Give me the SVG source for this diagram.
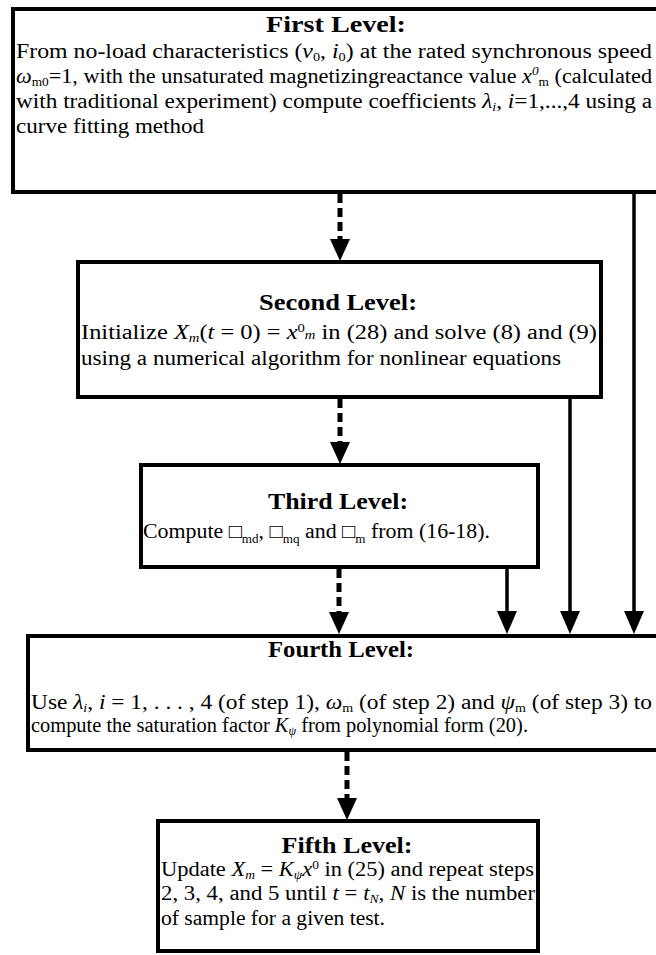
<svg xmlns="http://www.w3.org/2000/svg" width="656" height="955" viewBox="0 0 656 955">
<style>
.box{fill:#fff;stroke:#000;stroke-width:4}
.t{font-family:"Liberation Serif","Times New Roman",serif;font-weight:bold;font-size:24px;text-anchor:middle;fill:#000}
.b{font-family:"Liberation Serif","Times New Roman",serif;font-size:20px;fill:#000}
.i{font-style:italic}
.s{font-size:12px}
.solid{stroke:#000;stroke-width:3.5;fill:none}
.dash{stroke:#000;stroke-width:5;fill:none;stroke-dasharray:9 5}
</style>
<g id="connectors">
<line class="dash" x1="340" y1="194" x2="340" y2="240"/>
<path d="M330,239 L350,239 L340,261 Z"/>
<line class="dash" x1="340" y1="399" x2="340" y2="443"/>
<path d="M330,442 L350,442 L340,464 Z"/>
<line class="dash" x1="339" y1="569" x2="339" y2="613"/>
<path d="M329,612 L349,612 L339,634 Z"/>
<line class="dash" x1="347" y1="752" x2="347" y2="799"/>
<path d="M337,798 L357,798 L347,820 Z"/>
<line class="solid" x1="634" y1="192" x2="634" y2="612"/>
<path d="M624,611 L644,611 L634,634 Z"/>
<line class="solid" x1="570" y1="397" x2="570" y2="612"/>
<path d="M560,611 L580,611 L570,634 Z"/>
<line class="solid" x1="507" y1="567" x2="507" y2="612"/>
<path d="M497,611 L517,611 L507,634 Z"/>
</g>
<g id="first">
<rect class="box" x="13" y="9" width="680" height="183"/>
<text class="t" x="336" y="32" textLength="140" lengthAdjust="spacingAndGlyphs">First Level:</text>
<text class="b" x="16" y="58" textLength="636" lengthAdjust="spacingAndGlyphs">From no-load characteristics (<tspan class="i">v</tspan><tspan class="s" dy="3">0</tspan><tspan dy="-3">, </tspan><tspan class="i">i</tspan><tspan class="s" dy="3">0</tspan><tspan dy="-3">) at the rated synchronous speed</tspan></text>
<text class="b" x="16" y="83" textLength="636" lengthAdjust="spacingAndGlyphs"><tspan class="i">ω</tspan><tspan class="s" dy="3">m0</tspan><tspan dy="-3">=1, with the unsaturated magnetizingreactance value </tspan><tspan class="i">x</tspan><tspan class="s i" dy="-8">0</tspan><tspan class="s" dy="11">m</tspan><tspan dy="-3"> (calculated</tspan></text>
<text class="b" x="16" y="108" textLength="636" lengthAdjust="spacingAndGlyphs">with traditional experiment) compute coefficients <tspan class="i">λ</tspan><tspan class="s i" dy="3">i</tspan><tspan dy="-3">, </tspan><tspan class="i">i</tspan>=1,...,4 using a</text>
<text class="b" x="16" y="133" textLength="188" lengthAdjust="spacingAndGlyphs">curve fitting method</text>
</g>
<g id="second">
<rect class="box" x="78" y="262" width="523" height="135"/>
<text class="t" x="338" y="310" textLength="158" lengthAdjust="spacingAndGlyphs">Second Level:</text>
<text class="b" x="81" y="339" textLength="516" lengthAdjust="spacingAndGlyphs">Initialize <tspan class="i">X</tspan><tspan class="s i" dy="3">m</tspan><tspan dy="-3">(</tspan><tspan class="i">t</tspan> = 0) = <tspan class="i">x</tspan><tspan class="s" dy="-7">0</tspan><tspan class="s i" dy="7">m</tspan> in (28) and solve (8) and (9)</text>
<text class="b" x="81" y="365" textLength="480" lengthAdjust="spacingAndGlyphs">using a numerical algorithm for nonlinear equations</text>
</g>
<g id="third">
<rect class="box" x="141" y="465" width="397" height="102"/>
<text class="t" x="338" y="509" textLength="140" lengthAdjust="spacingAndGlyphs">Third Level:</text>
<text class="b" x="143" y="538" textLength="347" lengthAdjust="spacingAndGlyphs">Compute □<tspan class="s" dy="5">md</tspan><tspan dy="-5">, □</tspan><tspan class="s" dy="5">mq</tspan><tspan dy="-5"> and □</tspan><tspan class="s" dy="5">m</tspan><tspan dy="-5"> from (16-18).</tspan></text>
</g>
<g id="fourth">
<rect class="box" x="28" y="636" width="680" height="114"/>
<text class="t" x="341" y="657" textLength="146" lengthAdjust="spacingAndGlyphs">Fourth Level:</text>
<text class="b" x="31" y="709" textLength="621" lengthAdjust="spacingAndGlyphs">Use <tspan class="i">λ</tspan><tspan class="s i" dy="3">i</tspan><tspan dy="-3">, </tspan><tspan class="i">i</tspan> = 1, . . . , 4 (of step 1), <tspan class="i">ω</tspan><tspan class="s" dy="3">m</tspan><tspan dy="-3"> (of step 2) and </tspan><tspan class="i">ψ</tspan><tspan class="s" dy="3">m</tspan><tspan dy="-3"> (of step 3) to</tspan></text>
<text class="b" x="31" y="732" textLength="497" lengthAdjust="spacingAndGlyphs">compute the saturation factor <tspan class="i">K</tspan><tspan class="s i" dy="3">ψ</tspan><tspan dy="-3"> from polynomial form (20).</tspan></text>
</g>
<g id="fifth">
<rect class="box" x="158" y="821" width="380" height="130"/>
<text class="t" x="347" y="853" textLength="131" lengthAdjust="spacingAndGlyphs">Fifth Level:</text>
<text class="b" x="161" y="876" textLength="373" lengthAdjust="spacingAndGlyphs">Update <tspan class="i">X</tspan><tspan class="s i" dy="3">m</tspan><tspan dy="-3"> = </tspan><tspan class="i">K</tspan><tspan class="s i" dy="3">ψ</tspan><tspan class="i" dy="-3">x</tspan><tspan class="s" dy="-7">0</tspan><tspan dy="7">  in (25) and repeat steps</tspan></text>
<text class="b" x="161" y="900" textLength="374" lengthAdjust="spacingAndGlyphs">2, 3, 4, and 5 until <tspan class="i">t</tspan> = <tspan class="i">t</tspan><tspan class="s i" dy="3">N</tspan><tspan dy="-3">, </tspan><tspan class="i">N</tspan> is the number</text>
<text class="b" x="161" y="925" textLength="224" lengthAdjust="spacingAndGlyphs">of sample for a given test.</text>
</g>
</svg>
